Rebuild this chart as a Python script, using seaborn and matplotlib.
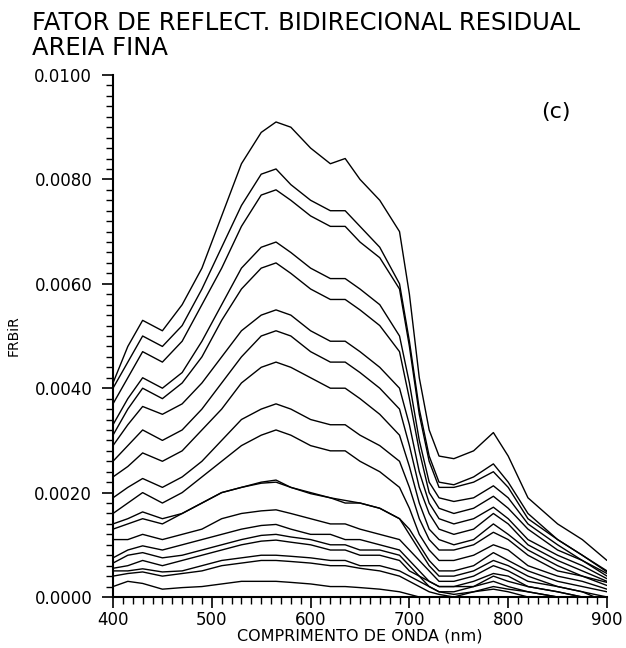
import numpy as np
import pandas as pd
import matplotlib
matplotlib.use("Agg")
import matplotlib.pyplot as plt
from matplotlib.ticker import MultipleLocator, FormatStrFormatter
import seaborn as sns

wavelengths = [400, 415, 430, 450, 470, 490, 510, 530, 550, 565, 580, 600, 620, 635,
               650, 670, 690, 700, 710, 720, 730, 745, 765, 785, 800, 820, 850, 875, 900]

c1 = [0.0041, 0.0048, 0.0053, 0.0051, 0.0056, 0.0063, 0.0073, 0.0083, 0.0089, 0.0091, 0.0090, 0.0086, 0.0083, 0.0084, 0.0080, 0.0076, 0.0070, 0.0058, 0.0042, 0.0032, 0.0027, 0.00265, 0.0028, 0.00315, 0.0027, 0.0019, 0.0014, 0.0011, 0.0007]
c2 = [0.0040, 0.0045, 0.0050, 0.0048, 0.0052, 0.0059, 0.0067, 0.0075, 0.0081, 0.0082, 0.0079, 0.0076, 0.0074, 0.0074, 0.0071, 0.0067, 0.0060, 0.0049, 0.0036, 0.0027, 0.0022, 0.00215, 0.0023, 0.00255, 0.0022, 0.0016, 0.0011, 0.0008, 0.0005]
c3 = [0.0037, 0.0042, 0.0047, 0.0045, 0.0049, 0.0056, 0.0063, 0.0071, 0.0077, 0.0078, 0.0076, 0.0073, 0.0071, 0.0071, 0.0068, 0.0065, 0.0059, 0.0048, 0.0035, 0.0026, 0.0021, 0.0021, 0.0022, 0.0024, 0.0021, 0.0015, 0.0011, 0.0008, 0.00048]
c4 = [0.0033, 0.0038, 0.0042, 0.0040, 0.0043, 0.0049, 0.0056, 0.0063, 0.0067, 0.0068, 0.0066, 0.0063, 0.0061, 0.0061, 0.0059, 0.0056, 0.0050, 0.0041, 0.0030, 0.0022, 0.0019, 0.00183, 0.0019, 0.00213, 0.0019, 0.0014, 0.0010, 0.0007, 0.00045]
c5 = [0.0031, 0.0036, 0.0040, 0.0038, 0.0041, 0.0046, 0.0053, 0.0059, 0.0063, 0.0064, 0.0062, 0.0059, 0.0057, 0.0057, 0.0055, 0.0052, 0.0047, 0.0038, 0.0028, 0.0020, 0.0017, 0.0016, 0.0017, 0.00193, 0.0017, 0.0013, 0.0009, 0.0007, 0.0004]
c6 = [0.0029, 0.0033, 0.00365, 0.0035, 0.0037, 0.0041, 0.0046, 0.0051, 0.0054, 0.0055, 0.0054, 0.0051, 0.0049, 0.0049, 0.0047, 0.0044, 0.0040, 0.0033, 0.0024, 0.0018, 0.0015, 0.0014, 0.0015, 0.00172, 0.0015, 0.0011, 0.0008, 0.0006, 0.00035]
c7 = [0.0026, 0.0029, 0.0032, 0.0030, 0.0032, 0.0036, 0.0041, 0.0046, 0.0050, 0.0051, 0.0050, 0.0047, 0.0045, 0.0045, 0.0043, 0.0040, 0.0036, 0.0029, 0.0021, 0.0016, 0.0013, 0.0012, 0.0013, 0.0016, 0.0014, 0.0010, 0.0007, 0.0005, 0.0003]
c8 = [0.0023, 0.0025, 0.00276, 0.0026, 0.0028, 0.0032, 0.0036, 0.0041, 0.0044, 0.0045, 0.0044, 0.0042, 0.0040, 0.0040, 0.0038, 0.0035, 0.0031, 0.0025, 0.0018, 0.0013, 0.0011, 0.0010, 0.0011, 0.0014, 0.0012, 0.0009, 0.0006, 0.0004, 0.00028]
c9 = [0.0019, 0.0021, 0.00227, 0.0021, 0.0023, 0.0026, 0.0030, 0.0034, 0.0036, 0.0037, 0.0036, 0.0034, 0.0033, 0.0033, 0.0031, 0.0029, 0.0026, 0.0021, 0.0015, 0.0011, 0.0009, 0.0009, 0.0010, 0.00124, 0.0011, 0.0008, 0.0005, 0.0004, 0.00022]
c10 = [0.0016, 0.0018, 0.0020, 0.0018, 0.0020, 0.0023, 0.0026, 0.0029, 0.0031, 0.0032, 0.0031, 0.0029, 0.0028, 0.0028, 0.0026, 0.0024, 0.0021, 0.0017, 0.0012, 0.0009, 0.0007, 0.0007, 0.0008, 0.0010, 0.0009, 0.0006, 0.0004, 0.0003, 0.00015]
l1 = [0.0014, 0.0015, 0.00163, 0.0015, 0.0016, 0.0018, 0.0020, 0.0021, 0.0022, 0.00224, 0.0021, 0.0020, 0.0019, 0.00185, 0.0018, 0.0017, 0.0015, 0.0013, 0.0010, 0.0007, 0.0005, 0.0005, 0.0006, 0.00085, 0.0007, 0.0005, 0.0003, 0.0002, 0.0001]
l2 = [0.0013, 0.0014, 0.0015, 0.0014, 0.0016, 0.0018, 0.0020, 0.0021, 0.00218, 0.0022, 0.0021, 0.00198, 0.0019, 0.0018, 0.0018, 0.0017, 0.0015, 0.0012, 0.0009, 0.0006, 0.0004, 0.0004, 0.0005, 0.0007, 0.0006, 0.0004, 0.0002, 0.0001, 0.0000]
l3 = [0.0011, 0.0011, 0.0012, 0.0011, 0.0012, 0.0013, 0.0015, 0.0016, 0.00165, 0.00167, 0.0016, 0.0015, 0.0014, 0.0014, 0.0013, 0.0012, 0.0011, 0.0009, 0.0007, 0.0005, 0.0003, 0.0003, 0.0004, 0.0006, 0.0005, 0.0003, 0.0002, 0.0001, -0.0001]
l4 = [0.00075, 0.0009, 0.00098, 0.0009, 0.0010, 0.0011, 0.0012, 0.0013, 0.00137, 0.00139, 0.0013, 0.0012, 0.0012, 0.0011, 0.0011, 0.0010, 0.0009, 0.0007, 0.0005, 0.0003, 0.0002, 0.0002, 0.0003, 0.00045, 0.0004, 0.0002, 0.0001, 0.0000, -0.0001]
l5 = [0.00065, 0.0008, 0.00085, 0.00075, 0.0008, 0.0009, 0.0010, 0.0011, 0.00118, 0.0012, 0.00115, 0.0011, 0.0010, 0.0010, 0.0009, 0.0009, 0.0008, 0.0006, 0.0004, 0.0003, 0.0002, 0.0002, 0.0002, 0.0004, 0.0003, 0.0002, 0.0001, 0.0000, -0.0001]
l6 = [0.00055, 0.0006, 0.0007, 0.0006, 0.0007, 0.0008, 0.0009, 0.0010, 0.00107, 0.00109, 0.00105, 0.0010, 0.0009, 0.0009, 0.0008, 0.0008, 0.0007, 0.0005, 0.0004, 0.0002, 0.0001, 0.0001, 0.0002, 0.0003, 0.0002, 0.0001, 0.0000, -0.0001, -0.0002]
l7 = [0.0005, 0.0005, 0.00054, 0.00048, 0.0005, 0.0006, 0.0007, 0.00075, 0.0008, 0.0008, 0.00078, 0.00075, 0.0007, 0.0007, 0.0006, 0.0006, 0.0005, 0.0004, 0.0003, 0.0002, 0.0001, 0.00005, 0.0001, 0.0002, 0.00015, 0.0001, 0.0000, -0.0001, -0.0002]
l8 = [0.0004, 0.00045, 0.00048, 0.0004, 0.00045, 0.0005, 0.0006, 0.00065, 0.0007, 0.0007, 0.00068, 0.00065, 0.0006, 0.0006, 0.00055, 0.0005, 0.0004, 0.0003, 0.0002, 0.0001, 0.00005, 0.0000, 0.0001, 0.00015, 0.0001, 0.0000, -0.0001, -0.0001, -0.0002]
l9 = [0.0002, 0.0003, 0.00026, 0.00015, 0.00018, 0.0002, 0.00025, 0.0003, 0.0003, 0.0003, 0.00028, 0.00025, 0.0002, 0.0002, 0.00018, 0.00015, 0.0001, 0.00005, 0.0, -0.00005, -0.0001, -0.0001, -0.0001, -0.00005, -0.0001, -0.0002, -0.0002, -0.0003, -0.0003]

curves = {"c1": c1, "c2": c2, "c3": c3, "c4": c4, "c5": c5, "c6": c6, "c7": c7,
          "c8": c8, "c9": c9, "c10": c10, "l1": l1, "l2": l2, "l3": l3, "l4": l4,
          "l5": l5, "l6": l6, "l7": l7, "l8": l8, "l9": l9}

title_lines = ["FATOR DE REFLECT. BIDIRECIONAL RESIDUAL", "AREIA FINA"]
x_label = "COMPRIMENTO DE ONDA (nm)"
y_label = "FRBiR"
panel_label = "(c)"

rows = []
for name, vals in curves.items():
    for w, v in zip(wavelengths, vals):
        rows.append({"curve": name, "wl": w, "val": v})
df = pd.DataFrame(rows)

sns.set_style("white")
plt.rcParams["font.family"] = ["DejaVu Sans"]
plt.rcParams["text.color"] = "black"
plt.rcParams["axes.labelcolor"] = "black"
plt.rcParams["xtick.color"] = "black"
plt.rcParams["ytick.color"] = "black"

fig = plt.figure(figsize=(6.26, 6.48), dpi=100)
ax = fig.add_axes([113 / 626, 51 / 648, 494 / 626, 522 / 648])

sns.lineplot(data=df, x="wl", y="val", hue="curve",
             palette=["black"] * len(curves), legend=False, linewidth=1.0,
             ax=ax, estimator=None, sort=False)

ax.set_xlim(400, 900)
ax.set_ylim(0, 0.0100)
ax.xaxis.set_major_locator(MultipleLocator(100))
ax.xaxis.set_minor_locator(MultipleLocator(10))
ax.yaxis.set_major_locator(MultipleLocator(0.002))
ax.yaxis.set_minor_locator(MultipleLocator(0.0002))
ax.yaxis.set_major_formatter(FormatStrFormatter("%.4f"))
ax.tick_params(axis="both", which="major", direction="out", length=8, width=1.2,
               colors="black", labelsize=12, left=True, bottom=True)
ax.tick_params(axis="both", which="minor", direction="out", length=5, width=1.0,
               colors="black", left=True, bottom=True)
ax.tick_params(axis="x", pad=2)
ax.tick_params(axis="y", pad=7)
for s in ["top", "right"]:
    ax.spines[s].set_visible(False)
for s in ["left", "bottom"]:
    ax.spines[s].set_color("black")
    ax.spines[s].set_linewidth(1.5)

ax.set_xlabel(x_label, fontsize=11.5, labelpad=0, color="black")
ax.set_ylabel(y_label, fontsize=10, labelpad=10, color="black")
ax.text(848, 0.0093, panel_label, fontsize=16, ha="center", va="center", color="black")

fig.text(32 / 626, 1 - 11 / 648, title_lines[0], fontsize=17.5, ha="left", va="top", color="black")
fig.text(32 / 626, 1 - 36 / 648, title_lines[1], fontsize=17.5, ha="left", va="top", color="black")

fig.savefig("out.png", dpi=100)
